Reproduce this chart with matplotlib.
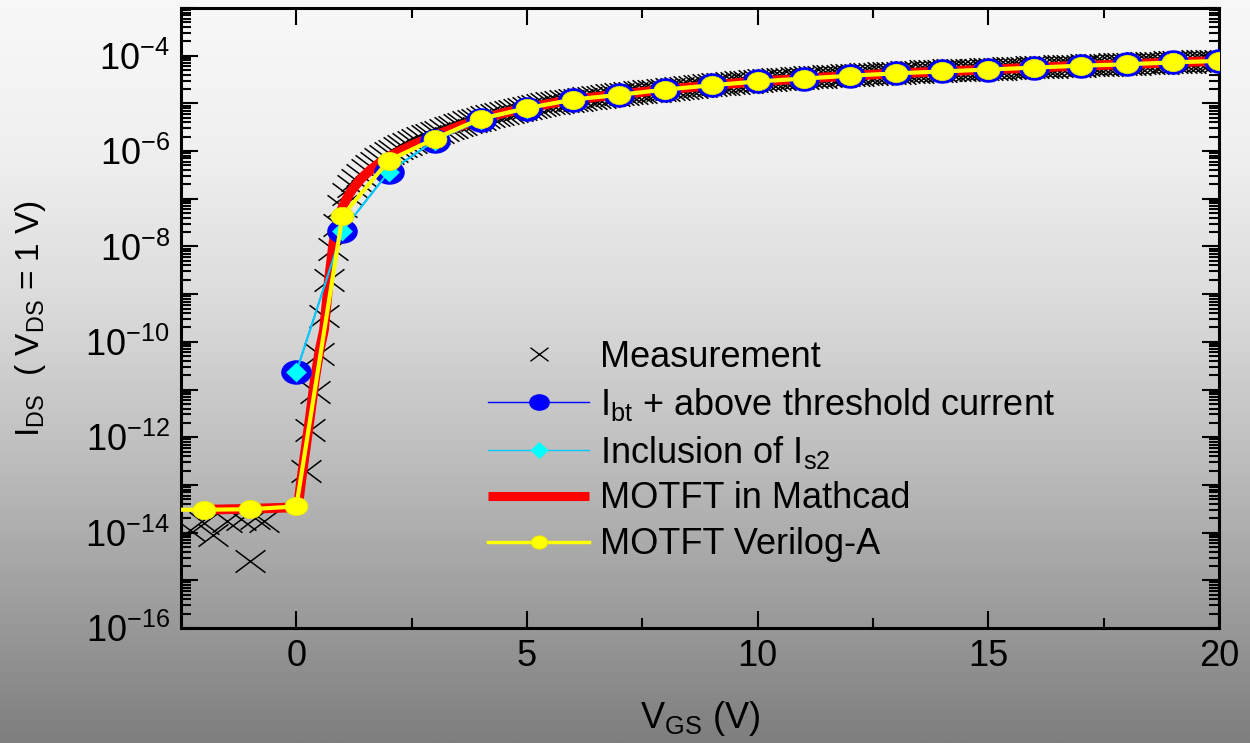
import numpy as np
import matplotlib
matplotlib.use("Agg")
import matplotlib.pyplot as plt
from matplotlib.lines import Line2D
from matplotlib.path import Path
import matplotlib.transforms as mtrans

plt.rcParams.update({
    "font.family": ["Liberation Sans", "DejaVu Sans"],
    "mathtext.default": "regular",
    "font.size": 25,
})

# ---- data (log10 of I_DS in A) ----
# measurement, sub-threshold scatter below 0 V
V_meas_neg = [-2.3, -2.0, -1.8, -1.5, -1.2, -1.0, -0.9, -0.7]
logI_meas_neg = [-13.95, -13.80, -14.05, -13.75, -13.72, -14.60, -13.70, -13.75]

# measurement sweep 0.2 V ... 20 V, 0.1 V step
V_meas = np.round(np.arange(2, 201) / 10, 1)
logI_meas = [
    -12.70, -11.85, -11.05, -10.25, -9.45, -8.70, -8.05, -7.55, -7.15,
    -6.90, -6.74, -6.61, -6.50, -6.40, -6.32, -6.24, -6.17, -6.10, -6.04,
    -5.99, -5.94, -5.89, -5.85, -5.81, -5.77, -5.73, -5.69, -5.66, -5.62,
    -5.59, -5.55, -5.52, -5.49, -5.46, -5.43, -5.40, -5.37, -5.34, -5.32,
    -5.29, -5.27, -5.24, -5.22, -5.20, -5.18, -5.16, -5.14, -5.12, -5.10,
    -5.08, -5.06, -5.04, -5.02, -5.00, -4.99, -4.97, -4.96, -4.94, -4.93,
    -4.92, -4.90, -4.89, -4.88, -4.87, -4.86, -4.84, -4.83, -4.82, -4.81,
    -4.80, -4.79, -4.78, -4.77, -4.76, -4.75, -4.74, -4.73, -4.72, -4.71,
    -4.70, -4.69, -4.68, -4.67, -4.66, -4.65, -4.64, -4.63, -4.62, -4.61,
    -4.60, -4.59, -4.59, -4.58, -4.57, -4.56, -4.56, -4.55, -4.54, -4.53,
    -4.52, -4.51, -4.50, -4.49, -4.49, -4.48, -4.48, -4.47, -4.46, -4.46,
    -4.45, -4.45, -4.44, -4.44, -4.43, -4.43, -4.42, -4.42, -4.41, -4.41,
    -4.40, -4.40, -4.39, -4.39, -4.38, -4.38, -4.37, -4.37, -4.36, -4.36,
    -4.36, -4.35, -4.35, -4.34, -4.34, -4.33, -4.33, -4.33, -4.32, -4.32,
    -4.31, -4.31, -4.31, -4.30, -4.30, -4.29, -4.29, -4.29, -4.28, -4.28,
    -4.27, -4.27, -4.27, -4.26, -4.26, -4.25, -4.25, -4.25, -4.24, -4.24,
    -4.24, -4.23, -4.23, -4.23, -4.22, -4.22, -4.22, -4.21, -4.21, -4.21,
    -4.20, -4.20, -4.20, -4.19, -4.19, -4.19, -4.18, -4.18, -4.18, -4.17,
    -4.17, -4.17, -4.16, -4.16, -4.16, -4.15, -4.15, -4.15, -4.14, -4.14,
    -4.14, -4.13, -4.13, -4.13, -4.12, -4.12, -4.12, -4.11, -4.11, -4.11,
]

# I_bt + above threshold current, and inclusion of I_s2 (integer V)
V_model = list(range(0, 21))
logI_bt = [-10.63, -7.67, -6.44, -5.78, -5.35, -5.11, -4.93, -4.82, -4.71, -4.62,
           -4.54, -4.48, -4.42, -4.37, -4.33, -4.29, -4.25, -4.21, -4.18, -4.14, -4.11]
logI_s2 = [-10.63, -7.67, -6.44, -5.78, -5.35, -5.11, -4.93, -4.82, -4.71, -4.62,
           -4.54, -4.48, -4.42, -4.37, -4.33, -4.29, -4.25, -4.21, -4.18, -4.14, -4.11]

# MOTFT in Mathcad
V_mathcad = [-2, -1, 0, 0.05, 0.1, 0.2, 0.3, 0.4, 0.5, 0.6, 0.7, 0.8, 0.9, 1.0,
             1.1, 1.2, 1.4, 1.6, 1.8, 2.0, 2.5, 3.0, 3.5, 4, 4.5, 5,
             6, 7, 8, 9, 10, 11, 12, 13, 14, 15, 16, 17, 18, 19, 20]
logI_mathcad = [-13.52, -13.50, -13.47, -13.35, -12.95, -12.25, -11.55, -10.80, -10.20,
                -9.75, -8.75, -7.95, -7.45, -7.18, -6.98, -6.82, -6.58, -6.40, -6.25,
                -6.12, -5.88, -5.68, -5.49, -5.33, -5.20, -5.09, -4.92, -4.81, -4.71,
                -4.62, -4.54, -4.48, -4.42, -4.37, -4.33, -4.29, -4.25, -4.21, -4.18,
                -4.14, -4.11]

# MOTFT Verilog-A
V_verilog = [-2.5, -2, -1, 0, 1, 2, 3, 4, 5, 6, 7, 8, 9, 10, 11, 12, 13, 14, 15, 16,
             17, 18, 19, 20]
logI_verilog = [-13.52, -13.52, -13.51, -13.45, -7.36, -6.20, -5.74, -5.32, -5.10,
                -4.92, -4.82, -4.71, -4.62, -4.54, -4.48, -4.42, -4.37, -4.33, -4.29,
                -4.25, -4.21, -4.18, -4.14, -4.11]

labels = ["Measurement", "I$_{bt}$ + above threshold current", "Inclusion of I$_{s2}$",
          "MOTFT in Mathcad", "MOTFT Verilog-A"]

# wide markers, the original picture is stretched sideways
ellipse = Path.unit_circle().transformed(mtrans.Affine2D().scale(1.0, 0.8))
diamond = Path([(-1, 0), (0, 0.95), (1, 0), (0, -0.95), (-1, 0)],
               [Path.MOVETO, Path.LINETO, Path.LINETO, Path.LINETO, Path.CLOSEPOLY])
wide_x = Path([(-1, -0.75), (1, 0.75), (-1, 0.75), (1, -0.75)],
              [Path.MOVETO, Path.LINETO, Path.MOVETO, Path.LINETO])

fig = plt.figure(figsize=(12.5, 7.43), dpi=100)

# grey gradient background
bg = fig.add_axes([0, 0, 1, 1], zorder=-10)
yy = np.linspace(0, 1, 400)
shade = np.interp(yy, [0, 0.2, 0.4, 0.6, 0.8, 1.0], [248, 240, 220, 192, 160, 126]) / 255
bg.imshow(np.tile(shade[:, None], (1, 2))[:, :, None].repeat(3, axis=2),
          aspect="auto", extent=[0, 1, 0, 1], origin="upper")
bg.axis("off")

ax = fig.add_axes([181 / 1250, 1 - 628 / 743, (1219 - 181) / 1250, (628 - 8) / 743])
ax.set_facecolor("none")

ax.plot(V_meas_neg, 10 ** np.array(logI_meas_neg), ls="none", marker=wide_x, ms=21.5,
        mew=1.1, mec="black", mfc="none", zorder=2)
ax.plot(V_meas, 10 ** np.array(logI_meas), ls="none", marker=wide_x, ms=21.5,
        mew=1.1, mec="black", mfc="none", zorder=2)
ax.plot(V_mathcad, 10 ** np.array(logI_mathcad), color="#FF0000", lw=7,
        solid_capstyle="butt", zorder=3)
ax.plot(V_model, 10 ** np.array(logI_bt), color="#0000FF", lw=1, marker=ellipse,
        ms=22, mew=0, mfc="#0000FF", zorder=4)
ax.plot(V_model, 10 ** np.array(logI_s2), color="#00CCFF", lw=1.5, marker=diamond,
        ms=15, mew=0, mfc="#00FFFF", zorder=5)
ax.plot(V_verilog, 10 ** np.array(logI_verilog), color="#FFFF00", lw=3,
        marker=ellipse, ms=16.5, mfc="#FFFF00", mec="#E6E600", mew=0.5,
        markevery=list(range(1, len(V_verilog))), zorder=6)

ax.set_yscale("log")
ax.set_xlim(-2.5, 20)
ax.set_ylim(1e-16, 1e-3)
ax.set_xticks([0, 5, 10, 15, 20])
ax.set_xticks([2.5, 7.5, 12.5, 17.5], minor=True)
ax.set_yticks([10.0 ** k for k in range(-16, -2)])
ax.set_yticklabels(["$10^{%d}$" % k if k % 2 == 0 and k < -3 else "" for k in range(-16, -2)])
ax.yaxis.set_minor_locator(matplotlib.ticker.LogLocator(base=10, subs=np.arange(2, 10), numticks=30))
ax.yaxis.set_minor_formatter(matplotlib.ticker.NullFormatter())
ax.tick_params(which="both", direction="in", top=True, right=True, width=1.5,
               labelsize=26, colors="black")
ax.tick_params(which="major", length=12, pad=8)
ax.tick_params(which="minor", length=7)
for s in ax.spines.values():
    s.set_linewidth(2.2)

ax.set_xlabel("V$_{GS}$ (V)", fontsize=26, labelpad=18)
ax.set_ylabel("I$_{DS}$  ( V$_{DS}$ = 1 V)", fontsize=24, labelpad=27)

handles = [
    Line2D([], [], ls="none", marker=wide_x, ms=13, mew=1, mec="black", mfc="none"),
    Line2D([], [], color="#0000FF", lw=1, marker=ellipse, ms=15, mew=0, mfc="#0000FF"),
    Line2D([], [], color="#00CCFF", lw=1, marker=diamond, ms=13, mew=0, mfc="#00FFFF"),
    Line2D([], [], color="#FF0000", lw=6.5, solid_capstyle="butt"),
    Line2D([], [], color="#FFFF00", lw=2.5, marker=ellipse, ms=12, mfc="#FFFF00",
           mec="#E6E600", mew=0.6),
]
fig.legend(handles, labels, loc="upper left", bbox_to_anchor=(488 / 1250, 1 - 340 / 743),
           frameon=False, fontsize=26, handlelength=2.8, handletextpad=0.3,
           labelspacing=0.3, borderpad=0, borderaxespad=0)

fig.savefig("out.png", dpi=100)
